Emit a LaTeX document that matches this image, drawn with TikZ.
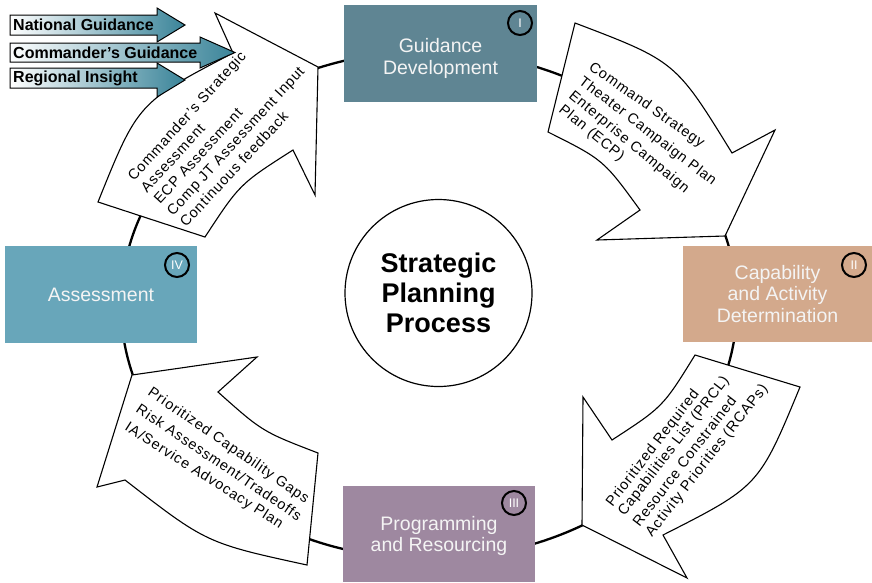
\documentclass[tikz,border=0pt]{standalone}
\usepackage{fontspec}
\setmainfont{Liberation Sans}
\newfontfamily\arrowfont[LetterSpace=6]{Liberation Sans}
\definecolor{gdcol}{HTML}{5F8593}
\definecolor{cadcol}{HTML}{D3A98C}
\definecolor{prcol}{HTML}{9E88A0}
\definecolor{ascol}{HTML}{68A6BA}
\definecolor{shadecol}{HTML}{3A8499}
\definecolor{boxtext}{HTML}{F4F4F4}
\begin{document}
\begin{tikzpicture}[x=1pt,y=-1pt,
  ring/.style={line width=2.3pt},
  bigarrow/.style={draw=black, fill=white, line width=1.1pt, line join=miter},
  phase/.style={rectangle, inner sep=0pt, text=boxtext, align=center, font=\fontsize{19.5}{21.5}\selectfont},
  numcirc/.style={circle, draw=black, line width=2pt, minimum size=24pt, inner sep=0pt, text=white, font=\fontsize{12.5}{12.5}\selectfont},
  arrowtext/.style={inner sep=0pt, anchor=base west, font=\arrowfont\fontsize{14.5}{15}\selectfont},
  inarrow/.style={draw=black, line width=1pt, left color=white, middle color=shadecol!30!white, right color=shadecol},
  intext/.style={inner sep=0pt, anchor=west, font=\bfseries\fontsize{16}{16}\selectfont},
]
\useasboundingbox (0,0) rectangle (872,582);

% ring
\draw[ring] (429,305) ellipse [x radius=308, y radius=254];

% big curved arrows
\draw[bigarrow] (575,23) .. controls (675.6,61.3) .. (732,153) -- (775,130) -- (725,236) -- (597,240) -- (640,210) .. controls (603.5,159.8) .. (548,132) -- cycle;
\draw[bigarrow] (800,387) .. controls (758.9,486.3) .. (663,535) -- (687,578) -- (582,525) -- (583,397) -- (612,440) .. controls (663,406.8) .. (695,355) -- cycle;
\draw[bigarrow] (307,565) .. controls (206.4,543.1) .. (125,480) -- (97,487) -- (132,375) -- (257,357) -- (218,392) .. controls (262.4,431.6) .. (318,453) -- cycle;
\draw[bigarrow] (98,202) .. controls (138,102.6) .. (233,53) -- (215,13) -- (318,67) -- (315,195) -- (293,150) .. controls (239.7,184) .. (205,237) -- cycle;

% arrow texts
\node[arrowtext, rotate=-35] (a1l1) at (588,69) {Command Strategy};
\node[arrowtext, rotate=-37.5] (a1l2) at (578,83) {Theater Campaign Plan};
\node[arrowtext, rotate=-39.5] (a1l3) at (568,97) {Enterprise Campaign};
\node[arrowtext, rotate=-39] (a1l4) at (558,111) {Plan (ECP)};

\node[arrowtext, rotate=52.5] (a2l1) at (612.4,507.4) {Prioritized Required};
\node[arrowtext, rotate=52.5] (a2l2) at (624.4,516.9) {Capabilities List (PRCL)};
\node[arrowtext, rotate=52.5] (a2l3) at (639.5,527.8) {Resource Constrained};
\node[arrowtext, rotate=52] (a2l4) at (652,537.5) {Activity Priorities (RCAPs)};

\node[arrowtext, rotate=-34.5] (a3l1) at (146.9,394.6) {Prioritized Capability Gaps};
\node[arrowtext, rotate=-34] (a3l2) at (134.9,411.6) {Risk Assessment/Tradeoffs};
\node[arrowtext, rotate=-32.5] (a3l3) at (123.9,429.6) {IA/Service Advocacy Plan};

\node[arrowtext, rotate=48] (a4l1) at (134,182) {Commander’s Strategic};
\node[arrowtext, rotate=47.5] (a4l2) at (147,193.5) {Assessment};
\node[arrowtext, rotate=47.5] (a4l3) at (160,205) {ECP Assessment};
\node[arrowtext, rotate=47.5] (a4l4) at (173,216.5) {Comp JT Assessment Input};
\node[arrowtext, rotate=47] (a4l5) at (186,228) {Continuous feedback};

% phase boxes
\node[phase, fill=gdcol, minimum width=193pt, minimum height=97pt] (gd) at (440.5,53.5) {\rule{0pt}{24pt}Guidance\\Development};
\node[phase, fill=cadcol, minimum width=189pt, minimum height=96pt] (cad) at (777.5,294) {Capability\\and Activity\\Determination};
\node[phase, fill=prcol, minimum width=192pt, minimum height=96pt] (pr) at (439,534) {\rule{0pt}{18pt}Programming\\and Resourcing};
\node[phase, fill=ascol, minimum width=192pt, minimum height=97pt] (as) at (101,294.5) {Assessment};

\node[numcirc] (n1) at (520,23) {I};
\node[numcirc] (n2) at (854,265) {II};
\node[numcirc] (n3) at (514,503) {III};
\node[numcirc] (n4) at (177,265) {IV};

% centre
\node[circle, draw=black, line width=1.2pt, minimum size=187pt, inner sep=0pt, align=center, font=\bfseries\fontsize{27}{30}\selectfont] (spp) at (438.5,293) {Strategic\\Planning\\Process};

% input arrows
\draw[inarrow] (10,15) -- (157,15) -- (157,8) -- (185,25) -- (157,42) -- (157,35) -- (10,35) -- cycle;
\node[intext] (ng) at (13,25) {National Guidance};
\draw[inarrow] (10,43) -- (200,43) -- (200,37) -- (235,52.5) -- (200,68) -- (200,62) -- (10,62) -- cycle;
\node[intext] (cg) at (13,52.5) {Commander’s Guidance};
\draw[inarrow] (10,68) -- (157,68) -- (157,63) -- (185,80) -- (157,97) -- (157,88) -- (10,88) -- cycle;
\node[intext] (ri) at (13,78) {Regional Insight};
\end{tikzpicture}
\end{document}
